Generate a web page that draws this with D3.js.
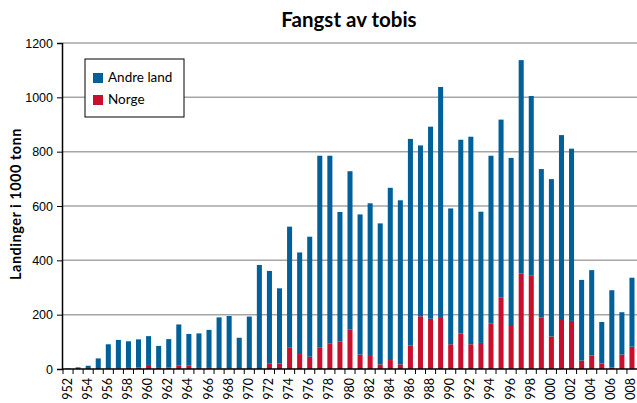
<!DOCTYPE html>
<html>
<head>
<meta charset="utf-8">
<script src="https://cdn.jsdelivr.net/npm/d3@7"></script>
<style>
  body { margin: 0; background: #fff; }
  svg { display: block; font-family: Lato, "Open Sans", sans-serif; }
</style>
</head>
<body>
<div id="chart"></div>
<script>
// years 1952 - 2008
const years = d3.range(1952, 2009);

// Landinger i 1000 tonn
const norge = [0, 0, 0, 0, 1, 2, 4, 5, 15, 4, 6, 12, 12, 4, 4, 2, 2, 1, 0, 0,
  21, 20, 80, 55, 45, 80, 93, 102, 146, 53, 48, 17, 33, 17, 86, 194, 185, 188,
  91, 131, 91, 96, 168, 264, 162, 351, 345, 190, 120, 184, 177, 31, 50, 20, 6, 53, 82];

const andreLand = [2, 6, 12, 39, 90, 105, 98, 104, 106, 81, 104, 152, 117, 127, 140,
  188, 193, 114, 193, 383, 340, 277, 444, 374, 442, 705, 692, 476, 582, 516, 562,
  519, 634, 604, 761, 629, 707, 850, 500, 713, 764, 483, 617, 654, 615, 786, 660,
  546, 579, 677, 634, 297, 314, 153, 284, 156, 254];

const yTicks = [0, 200, 400, 600, 800, 1000, 1200];

const seriesNames = ["Norge", "Andre land"];
const colors = { "Norge": "#c8102e", "Andre land": "#00609a" };

const width = 637, height = 403;
const margin = { top: 43, right: 0, bottom: 34, left: 63 };

const svg = d3.select("#chart").append("svg")
  .attr("width", width)
  .attr("height", height);

const rows = years.map((y, i) => ({ year: y, "Norge": norge[i], "Andre land": andreLand[i] }));
const stacked = d3.stack().keys(seriesNames)(rows);

const x = d3.scaleBand()
  .domain(years)
  .range([margin.left, width - margin.right])
  .paddingInner(0.5)
  .paddingOuter(0.25);

const y = d3.scaleLinear()
  .domain([0, 1200])
  .range([height - margin.bottom, margin.top]);

// gridlines
svg.append("g")
  .selectAll("line")
  .data(yTicks.slice(1))
  .enter()
  .append("line")
  .attr("x1", margin.left)
  .attr("x2", width)
  .attr("y1", d => y(d))
  .attr("y2", d => y(d))
  .attr("stroke", "#a6a6a6")
  .attr("stroke-width", 1.5);

// bars
svg.append("g")
  .selectAll("g")
  .data(stacked)
  .enter()
  .append("g")
  .attr("fill", d => colors[d.key])
  .selectAll("rect")
  .data(d => d)
  .enter()
  .append("rect")
  .attr("x", d => x(d.data.year))
  .attr("width", x.bandwidth())
  .attr("y", d => y(d[1]))
  .attr("height", d => y(d[0]) - y(d[1]));

// y axis
const yAxis = svg.append("g")
  .attr("transform", `translate(${margin.left - 1},0)`)
  .call(d3.axisLeft(y).tickValues(yTicks).tickSize(5).tickPadding(4).tickFormat(d3.format("d")));
yAxis.select(".domain").attr("stroke", "#000").attr("stroke-width", 1.5);
yAxis.selectAll("text").attr("font-size", "12.5px").attr("fill", "#000");

// x axis, ticks between the bars
const xAxis = svg.append("g")
  .attr("transform", `translate(0,${height - margin.bottom})`);
xAxis.append("line")
  .attr("x1", margin.left - 1)
  .attr("x2", width)
  .attr("stroke", "#000")
  .attr("stroke-width", 1.5);
xAxis.selectAll(".xtick")
  .data(years)
  .enter()
  .append("line")
  .attr("class", "xtick")
  .attr("x1", d => x(d) - x.step() * x.paddingInner() / 2)
  .attr("x2", d => x(d) - x.step() * x.paddingInner() / 2)
  .attr("y1", 0)
  .attr("y2", 5)
  .attr("stroke", "#000");
// the original cuts the leading digit off at the bottom edge
xAxis.selectAll(".xlabel")
  .data(years.filter(d => d % 2 === 0))
  .enter()
  .append("text")
  .attr("class", "xlabel")
  .attr("transform", d => `translate(${x(d) + x.bandwidth() / 2 + 3.5},9) rotate(-90)`)
  .attr("text-anchor", "end")
  .attr("font-size", "12.5px")
  .attr("fill", "#000")
  .text(d => String(d).slice(1));

// title
svg.append("text")
  .attr("x", 349)
  .attr("y", 27)
  .attr("text-anchor", "middle")
  .attr("font-size", "20.5px")
  .attr("font-weight", "bold")
  .text("Fangst av tobis");

// y axis label
svg.append("text")
  .attr("transform", "translate(21,204) rotate(-90)")
  .attr("text-anchor", "middle")
  .attr("font-size", "14.5px")
  .attr("font-weight", "bold")
  .attr("letter-spacing", "0.5px")
  .text("Landinger i 1000 tonn");

// legend
const legend = svg.append("g").attr("transform", "translate(85,59)");
legend.append("rect")
  .attr("width", 99)
  .attr("height", 58)
  .attr("fill", "#fff")
  .attr("stroke", "#000")
  .attr("stroke-width", 1);
["Andre land", "Norge"].forEach((name, i) => {
  legend.append("rect")
    .attr("x", 8)
    .attr("y", 14 + i * 22)
    .attr("width", 10)
    .attr("height", 10)
    .attr("fill", colors[name]);
  legend.append("text")
    .attr("x", 23)
    .attr("y", 23 + i * 22)
    .attr("font-size", "13.5px")
    .text(name);
});
</script>
</body>
</html>
